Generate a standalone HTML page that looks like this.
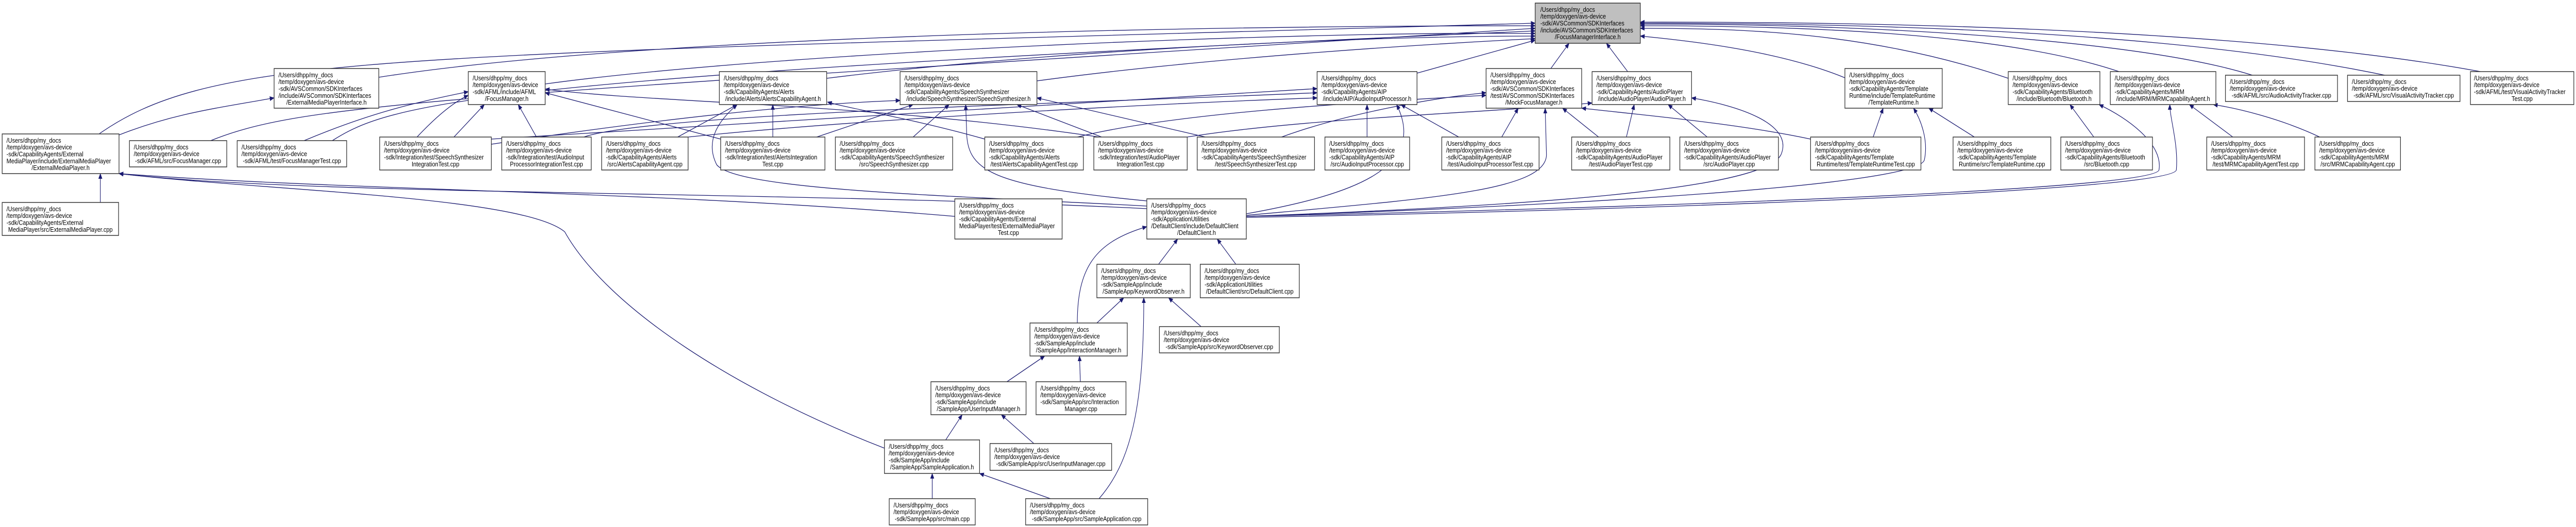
<!DOCTYPE html>
<html><head><meta charset="utf-8"><style>
html,body{margin:0;padding:0;background:#fff;overflow:hidden;}
svg{display:block;width:100vw;height:100vh;}
text{font-family:"Liberation Sans",Arial,sans-serif;font-size:13px;fill:#000;}
.n{fill:#fff;stroke:#333;stroke-width:1.5;}
.r{fill:#bfbfbf;stroke:#333;stroke-width:1.5;}
.e{fill:none;stroke:#191970;stroke-width:1.3;}
</style></head><body>
<svg viewBox="0 0 5930 1023" preserveAspectRatio="none" xmlns="http://www.w3.org/2000/svg" overflow="hidden">
<defs><marker id="a" markerWidth="11" markerHeight="9" refX="10" refY="4.5" orient="auto" markerUnits="userSpaceOnUse"><path d="M0,0 L11,4.5 L0,9 z" fill="#191970"/></marker></defs>
<g class="e" marker-end="url(#a)">
<path d="M228,260 C500,100 900,110 3534,45"/>
<path d="M872,150 C1400,80 2500,50 3534,50"/>
<path d="M485,273 C700,200 1000,190 3534,55"/>
<path d="M765,273 C900,200 1100,150 3534,60"/>
<path d="M1255,163 C1800,100 3000,60 3534,65"/>
<path d="M1903,152 C2400,100 3100,70 3534,70"/>
<path d="M2387,157 C2800,110 3300,85 3534,75"/>
<path d="M3262,142 L3534,78"/>
<path d="M3570,133 L3612,84"/>
<path d="M3747,139 L3698,84"/>
<path d="M4247,151 C4100,100 3900,80 3776,70"/>
<path d="M4623,152 C4300,60 4000,55 3776,55"/>
<path d="M4878,139 C4600,60 4100,50 3776,50"/>
<path d="M5185,146 C4900,70 4200,45 3776,47"/>
<path d="M5490,146 C5000,60 4300,45 3776,45"/>
<path d="M5710,139 C5200,60 4400,42 3776,43"/>
<path d="M231,393 L231,337"/>
<path d="M274,262 C400,220 500,210 631,190"/>
<path d="M2198,420 C1500,370 800,370 274,337"/>
<path d="M2640,405 C1800,370 700,380 274,337"/>
<path d="M2036,870 C1700,760 1400,600 1300,450 C1200,380 600,370 274,337"/>
<path d="M960,266 C1000,230 1040,200 1078,185"/>
<path d="M1045,266 L1115,203"/>
<path d="M1235,266 L1193,203"/>
<path d="M1659,270 L1255,180"/>
<path d="M2530,266 C2000,200 1500,200 1255,173"/>
<path d="M700,273 C850,220 950,200 1078,178"/>
<path d="M1560,266 L1697,203"/>
<path d="M1779,266 L1779,203"/>
<path d="M2267,270 C2100,230 1950,210 1905,198"/>
<path d="M2640,400 C2200,380 1700,370 1650,320 C1620,270 1660,230 1697,203"/>
<path d="M2102,266 L2185,203"/>
<path d="M1880,266 L2102,203"/>
<path d="M1131,280 C1600,220 1900,200 2072,195"/>
<path d="M2536,266 L2341,203"/>
<path d="M2775,266 L2387,190"/>
<path d="M2640,390 C2270,360 2225,330 2225,250 L2223,203"/>
<path d="M3147,266 L3147,203"/>
<path d="M3358,266 L3225,203"/>
<path d="M1344,266 C1500,220 2500,200 3032,180"/>
<path d="M2869,415 C3100,380 3290,330 3215,203"/>
<path d="M1131,270 C2000,230 2700,190 3032,172"/>
<path d="M1584,266 C2000,230 2700,200 3032,190"/>
<path d="M3457,266 L3495,210"/>
<path d="M3680,266 L3597,210"/>
<path d="M2950,266 C3100,220 3300,190 3421,180"/>
<path d="M2480,266 C2700,220 3100,200 3421,185"/>
<path d="M2869,418 C3300,385 3560,370 3560,300 L3557,210"/>
<path d="M4168,270 C4000,240 3800,225 3641,210"/>
<path d="M3744,266 L3762,203"/>
<path d="M3930,266 L3840,203"/>
<path d="M2733,266 C3000,230 3400,220 3665,200"/>
<path d="M2869,420 C3500,400 4060,370 4100,300 C4130,240 4000,205 3894,190"/>
<path d="M4312,266 L4335,210"/>
<path d="M4545,266 L4440,210"/>
<path d="M2869,420 C3600,400 4420,360 4430,310 C4440,270 4420,230 4405,210"/>
<path d="M4820,266 L4765,203"/>
<path d="M2869,420 C3700,405 4960,370 4970,330 C4980,280 4900,230 4832,203"/>
<path d="M5140,266 L5040,203"/>
<path d="M5340,266 C5250,230 5150,210 5095,203"/>
<path d="M2869,422 C3800,408 5000,370 5010,330 C5015,280 4995,230 4995,203"/>
<path d="M2667,513 L2711,464"/>
<path d="M2845,513 L2802,464"/>
<path d="M2480,627 C2480,520 2520,470 2640,440"/>
<path d="M2525,627 L2587,578"/>
<path d="M2765,634 L2690,578"/>
<path d="M2530,968 C2600,900 2633,800 2633,578"/>
<path d="M2318,741 L2405,691"/>
<path d="M2487,741 L2485,691"/>
<path d="M2177,854 L2215,805"/>
<path d="M2380,861 L2305,805"/>
<path d="M2146,968 L2146,919"/>
<path d="M2418,968 L2255,919"/>
</g>

<rect class="n" x="5" y="260" width="269" height="77"/>
<text x="15" y="277">/Users/dhpp/my_docs</text><text x="15" y="290">/temp/doxygen/avs-device</text><text x="15" y="303.5">-sdk/CapabilityAgents/External</text><text x="15" y="317">MediaPlayer/include/ExternalMediaPlayer</text><text x="139.5" y="330" text-anchor="middle">/ExternalMediaPlayer.h</text>

<rect class="n" x="5" y="393" width="268" height="64"/>
<text x="15" y="410">/Users/dhpp/my_docs</text><text x="15" y="423">/temp/doxygen/avs-device</text><text x="15" y="436.5">-sdk/CapabilityAgents/External</text><text x="139" y="450" text-anchor="middle">MediaPlayer/src/ExternalMediaPlayer.cpp</text>

<rect class="n" x="298" y="273" width="224" height="51"/>
<text x="308" y="290">/Users/dhpp/my_docs</text><text x="308" y="303">/temp/doxygen/avs-device</text><text x="410" y="316.5" text-anchor="middle">-sdk/AFML/src/FocusManager.cpp</text>

<rect class="n" x="546" y="273" width="252" height="51"/>
<text x="556" y="290">/Users/dhpp/my_docs</text><text x="556" y="303">/temp/doxygen/avs-device</text><text x="672" y="316.5" text-anchor="middle">-sdk/AFML/test/FocusManagerTest.cpp</text>

<rect class="n" x="631" y="133" width="241" height="77"/>
<text x="641" y="150">/Users/dhpp/my_docs</text><text x="641" y="163">/temp/doxygen/avs-device</text><text x="641" y="176.5">-sdk/AVSCommon/SDKInterfaces</text><text x="641" y="190">/include/AVSCommon/SDKInterfaces</text><text x="751.5" y="203" text-anchor="middle">/ExternalMediaPlayerInterface.h</text>

<rect class="n" x="874" y="266" width="257" height="64"/>
<text x="884" y="283">/Users/dhpp/my_docs</text><text x="884" y="296">/temp/doxygen/avs-device</text><text x="884" y="309.5">-sdk/Integration/test/SpeechSynthesizer</text><text x="1002.5" y="323" text-anchor="middle">IntegrationTest.cpp</text>

<rect class="n" x="1078" y="139" width="177" height="64"/>
<text x="1088" y="156">/Users/dhpp/my_docs</text><text x="1088" y="169">/temp/doxygen/avs-device</text><text x="1088" y="182.5">-sdk/AFML/include/AFML</text><text x="1166.5" y="196" text-anchor="middle">/FocusManager.h</text>

<rect class="n" x="1155" y="266" width="206" height="64"/>
<text x="1165" y="283">/Users/dhpp/my_docs</text><text x="1165" y="296">/temp/doxygen/avs-device</text><text x="1165" y="309.5">-sdk/Integration/test/AudioInput</text><text x="1258" y="323" text-anchor="middle">ProcessorIntegrationTest.cpp</text>

<rect class="n" x="1385" y="266" width="199" height="64"/>
<text x="1395" y="283">/Users/dhpp/my_docs</text><text x="1395" y="296">/temp/doxygen/avs-device</text><text x="1395" y="309.5">-sdk/CapabilityAgents/Alerts</text><text x="1484.5" y="323" text-anchor="middle">/src/AlertsCapabilityAgent.cpp</text>

<rect class="n" x="1659" y="266" width="240" height="64"/>
<text x="1669" y="283">/Users/dhpp/my_docs</text><text x="1669" y="296">/temp/doxygen/avs-device</text><text x="1669" y="309.5">-sdk/Integration/test/AlertsIntegration</text><text x="1779" y="323" text-anchor="middle">Test.cpp</text>

<rect class="n" x="1656" y="139" width="247" height="64"/>
<text x="1666" y="156">/Users/dhpp/my_docs</text><text x="1666" y="169">/temp/doxygen/avs-device</text><text x="1666" y="182.5">-sdk/CapabilityAgents/Alerts</text><text x="1779.5" y="196" text-anchor="middle">/include/Alerts/AlertsCapabilityAgent.h</text>

<rect class="n" x="1923" y="266" width="270" height="64"/>
<text x="1933" y="283">/Users/dhpp/my_docs</text><text x="1933" y="296">/temp/doxygen/avs-device</text><text x="1933" y="309.5">-sdk/CapabilityAgents/SpeechSynthesizer</text><text x="2058" y="323" text-anchor="middle">/src/SpeechSynthesizer.cpp</text>

<rect class="n" x="2072" y="139" width="315" height="64"/>
<text x="2082" y="156">/Users/dhpp/my_docs</text><text x="2082" y="169">/temp/doxygen/avs-device</text><text x="2082" y="182.5">-sdk/CapabilityAgents/SpeechSynthesizer</text><text x="2229.5" y="196" text-anchor="middle">/include/SpeechSynthesizer/SpeechSynthesizer.h</text>

<rect class="n" x="2267" y="266" width="227" height="64"/>
<text x="2277" y="283">/Users/dhpp/my_docs</text><text x="2277" y="296">/temp/doxygen/avs-device</text><text x="2277" y="309.5">-sdk/CapabilityAgents/Alerts</text><text x="2380.5" y="323" text-anchor="middle">/test/AlertsCapabilityAgentTest.cpp</text>

<rect class="n" x="2518" y="266" width="215" height="64"/>
<text x="2528" y="283">/Users/dhpp/my_docs</text><text x="2528" y="296">/temp/doxygen/avs-device</text><text x="2528" y="309.5">-sdk/Integration/test/AudioPlayer</text><text x="2625.5" y="323" text-anchor="middle">IntegrationTest.cpp</text>

<rect class="n" x="2756" y="266" width="270" height="64"/>
<text x="2766" y="283">/Users/dhpp/my_docs</text><text x="2766" y="296">/temp/doxygen/avs-device</text><text x="2766" y="309.5">-sdk/CapabilityAgents/SpeechSynthesizer</text><text x="2891" y="323" text-anchor="middle">/test/SpeechSynthesizerTest.cpp</text>

<rect class="n" x="3032" y="139" width="230" height="64"/>
<text x="3042" y="156">/Users/dhpp/my_docs</text><text x="3042" y="169">/temp/doxygen/avs-device</text><text x="3042" y="182.5">-sdk/CapabilityAgents/AIP</text><text x="3147" y="196" text-anchor="middle">/include/AIP/AudioInputProcessor.h</text>

<rect class="n" x="3050" y="266" width="195" height="64"/>
<text x="3060" y="283">/Users/dhpp/my_docs</text><text x="3060" y="296">/temp/doxygen/avs-device</text><text x="3060" y="309.5">-sdk/CapabilityAgents/AIP</text><text x="3147.5" y="323" text-anchor="middle">/src/AudioInputProcessor.cpp</text>

<rect class="n" x="3319" y="266" width="224" height="64"/>
<text x="3329" y="283">/Users/dhpp/my_docs</text><text x="3329" y="296">/temp/doxygen/avs-device</text><text x="3329" y="309.5">-sdk/CapabilityAgents/AIP</text><text x="3431" y="323" text-anchor="middle">/test/AudioInputProcessorTest.cpp</text>

<rect class="r" x="3534" y="6" width="242" height="78"/>
<text x="3546" y="23">/Users/dhpp/my_docs</text><text x="3546" y="36">/temp/doxygen/avs-device</text><text x="3546" y="49.5">-sdk/AVSCommon/SDKInterfaces</text><text x="3546" y="63">/include/AVSCommon/SDKInterfaces</text><text x="3655" y="76" text-anchor="middle">/FocusManagerInterface.h</text>

<rect class="n" x="3421" y="133" width="220" height="77"/>
<text x="3431" y="150">/Users/dhpp/my_docs</text><text x="3431" y="163">/temp/doxygen/avs-device</text><text x="3431" y="176.5">-sdk/AVSCommon/SDKInterfaces</text><text x="3431" y="190">/test/AVSCommon/SDKInterfaces</text><text x="3531" y="203" text-anchor="middle">/MockFocusManager.h</text>

<rect class="n" x="3665" y="139" width="229" height="64"/>
<text x="3675" y="156">/Users/dhpp/my_docs</text><text x="3675" y="169">/temp/doxygen/avs-device</text><text x="3675" y="182.5">-sdk/CapabilityAgents/AudioPlayer</text><text x="3779.5" y="196" text-anchor="middle">/include/AudioPlayer/AudioPlayer.h</text>

<rect class="n" x="3618" y="266" width="226" height="64"/>
<text x="3628" y="283">/Users/dhpp/my_docs</text><text x="3628" y="296">/temp/doxygen/avs-device</text><text x="3628" y="309.5">-sdk/CapabilityAgents/AudioPlayer</text><text x="3731" y="323" text-anchor="middle">/test/AudioPlayerTest.cpp</text>

<rect class="n" x="3867" y="266" width="227" height="64"/>
<text x="3877" y="283">/Users/dhpp/my_docs</text><text x="3877" y="296">/temp/doxygen/avs-device</text><text x="3877" y="309.5">-sdk/CapabilityAgents/AudioPlayer</text><text x="3980.5" y="323" text-anchor="middle">/src/AudioPlayer.cpp</text>

<rect class="n" x="4247" y="133" width="224" height="77"/>
<text x="4257" y="150">/Users/dhpp/my_docs</text><text x="4257" y="163">/temp/doxygen/avs-device</text><text x="4257" y="176.5">-sdk/CapabilityAgents/Template</text><text x="4257" y="190">Runtime/include/TemplateRuntime</text><text x="4359" y="203" text-anchor="middle">/TemplateRuntime.h</text>

<rect class="n" x="4168" y="266" width="254" height="64"/>
<text x="4178" y="283">/Users/dhpp/my_docs</text><text x="4178" y="296">/temp/doxygen/avs-device</text><text x="4178" y="309.5">-sdk/CapabilityAgents/Template</text><text x="4295" y="323" text-anchor="middle">Runtime/test/TemplateRuntimeTest.cpp</text>

<rect class="n" x="4496" y="266" width="225" height="64"/>
<text x="4506" y="283">/Users/dhpp/my_docs</text><text x="4506" y="296">/temp/doxygen/avs-device</text><text x="4506" y="309.5">-sdk/CapabilityAgents/Template</text><text x="4608.5" y="323" text-anchor="middle">Runtime/src/TemplateRuntime.cpp</text>

<rect class="n" x="4623" y="139" width="211" height="64"/>
<text x="4633" y="156">/Users/dhpp/my_docs</text><text x="4633" y="169">/temp/doxygen/avs-device</text><text x="4633" y="182.5">-sdk/CapabilityAgents/Bluetooth</text><text x="4728.5" y="196" text-anchor="middle">/include/Bluetooth/Bluetooth.h</text>

<rect class="n" x="4744" y="266" width="211" height="64"/>
<text x="4754" y="283">/Users/dhpp/my_docs</text><text x="4754" y="296">/temp/doxygen/avs-device</text><text x="4754" y="309.5">-sdk/CapabilityAgents/Bluetooth</text><text x="4849.5" y="323" text-anchor="middle">/src/Bluetooth.cpp</text>

<rect class="n" x="4858" y="139" width="243" height="64"/>
<text x="4868" y="156">/Users/dhpp/my_docs</text><text x="4868" y="169">/temp/doxygen/avs-device</text><text x="4868" y="182.5">-sdk/CapabilityAgents/MRM</text><text x="4979.5" y="196" text-anchor="middle">/include/MRM/MRMCapabilityAgent.h</text>

<rect class="n" x="5123" y="146" width="258" height="51"/>
<text x="5133" y="163">/Users/dhpp/my_docs</text><text x="5133" y="176">/temp/doxygen/avs-device</text><text x="5252" y="189.5" text-anchor="middle">-sdk/AFML/src/AudioActivityTracker.cpp</text>

<rect class="n" x="5404" y="146" width="259" height="51"/>
<text x="5414" y="163">/Users/dhpp/my_docs</text><text x="5414" y="176">/temp/doxygen/avs-device</text><text x="5533.5" y="189.5" text-anchor="middle">-sdk/AFML/src/VisualActivityTracker.cpp</text>

<rect class="n" x="5687" y="139" width="238" height="64"/>
<text x="5695" y="156">/Users/dhpp/my_docs</text><text x="5695" y="169">/temp/doxygen/avs-device</text><text x="5695" y="182.5">-sdk/AFML/test/VisualActivityTracker</text><text x="5806" y="196" text-anchor="middle">Test.cpp</text>

<rect class="n" x="5080" y="266" width="225" height="64"/>
<text x="5090" y="283">/Users/dhpp/my_docs</text><text x="5090" y="296">/temp/doxygen/avs-device</text><text x="5090" y="309.5">-sdk/CapabilityAgents/MRM</text><text x="5192.5" y="323" text-anchor="middle">/test/MRMCapabilityAgentTest.cpp</text>

<rect class="n" x="5329" y="266" width="197" height="64"/>
<text x="5339" y="283">/Users/dhpp/my_docs</text><text x="5339" y="296">/temp/doxygen/avs-device</text><text x="5339" y="309.5">-sdk/CapabilityAgents/MRM</text><text x="5427.5" y="323" text-anchor="middle">/src/MRMCapabilityAgent.cpp</text>

<rect class="n" x="2198" y="386" width="247" height="78"/>
<text x="2208" y="403">/Users/dhpp/my_docs</text><text x="2208" y="416">/temp/doxygen/avs-device</text><text x="2208" y="429.5">-sdk/CapabilityAgents/External</text><text x="2208" y="443">MediaPlayer/test/ExternalMediaPlayer</text><text x="2321.5" y="456" text-anchor="middle">Test.cpp</text>

<rect class="n" x="2640" y="386" width="229" height="78"/>
<text x="2650" y="403">/Users/dhpp/my_docs</text><text x="2650" y="416">/temp/doxygen/avs-device</text><text x="2650" y="429.5">-sdk/ApplicationUtilities</text><text x="2650" y="443">/DefaultClient/include/DefaultClient</text><text x="2754.5" y="456" text-anchor="middle">/DefaultClient.h</text>

<rect class="n" x="2525" y="513" width="215" height="65"/>
<text x="2535" y="530">/Users/dhpp/my_docs</text><text x="2535" y="543">/temp/doxygen/avs-device</text><text x="2535" y="556.5">-sdk/SampleApp/include</text><text x="2632.5" y="570" text-anchor="middle">/SampleApp/KeywordObserver.h</text>

<rect class="n" x="2763" y="513" width="228" height="65"/>
<text x="2773" y="530">/Users/dhpp/my_docs</text><text x="2773" y="543">/temp/doxygen/avs-device</text><text x="2773" y="556.5">-sdk/ApplicationUtilities</text><text x="2877" y="570" text-anchor="middle">/DefaultClient/src/DefaultClient.cpp</text>

<rect class="n" x="2371" y="627" width="224" height="64"/>
<text x="2381" y="644">/Users/dhpp/my_docs</text><text x="2381" y="657">/temp/doxygen/avs-device</text><text x="2381" y="670.5">-sdk/SampleApp/include</text><text x="2483" y="684" text-anchor="middle">/SampleApp/InteractionManager.h</text>

<rect class="n" x="2669" y="634" width="276" height="51"/>
<text x="2679" y="651">/Users/dhpp/my_docs</text><text x="2679" y="664">/temp/doxygen/avs-device</text><text x="2807" y="677.5" text-anchor="middle">-sdk/SampleApp/src/KeywordObserver.cpp</text>

<rect class="n" x="2143" y="741" width="219" height="64"/>
<text x="2153" y="758">/Users/dhpp/my_docs</text><text x="2153" y="771">/temp/doxygen/avs-device</text><text x="2153" y="784.5">-sdk/SampleApp/include</text><text x="2252.5" y="798" text-anchor="middle">/SampleApp/UserInputManager.h</text>

<rect class="n" x="2385" y="741" width="207" height="64"/>
<text x="2395" y="758">/Users/dhpp/my_docs</text><text x="2395" y="771">/temp/doxygen/avs-device</text><text x="2395" y="784.5">-sdk/SampleApp/src/Interaction</text><text x="2488.5" y="798" text-anchor="middle">Manager.cpp</text>

<rect class="n" x="2036" y="854" width="219" height="65"/>
<text x="2046" y="871">/Users/dhpp/my_docs</text><text x="2046" y="884">/temp/doxygen/avs-device</text><text x="2046" y="897.5">-sdk/SampleApp/include</text><text x="2145.5" y="911" text-anchor="middle">/SampleApp/SampleApplication.h</text>

<rect class="n" x="2279" y="861" width="280" height="52"/>
<text x="2289" y="878">/Users/dhpp/my_docs</text><text x="2289" y="891">/temp/doxygen/avs-device</text><text x="2419" y="904.5" text-anchor="middle">-sdk/SampleApp/src/UserInputManager.cpp</text>

<rect class="n" x="2047" y="968" width="198" height="51"/>
<text x="2057" y="985">/Users/dhpp/my_docs</text><text x="2057" y="998">/temp/doxygen/avs-device</text><text x="2146" y="1011.5" text-anchor="middle">-sdk/SampleApp/src/main.cpp</text>

<rect class="n" x="2361" y="968" width="281" height="51"/>
<text x="2371" y="985">/Users/dhpp/my_docs</text><text x="2371" y="998">/temp/doxygen/avs-device</text><text x="2501.5" y="1011.5" text-anchor="middle">-sdk/SampleApp/src/SampleApplication.cpp</text>
</svg>
</body></html>
